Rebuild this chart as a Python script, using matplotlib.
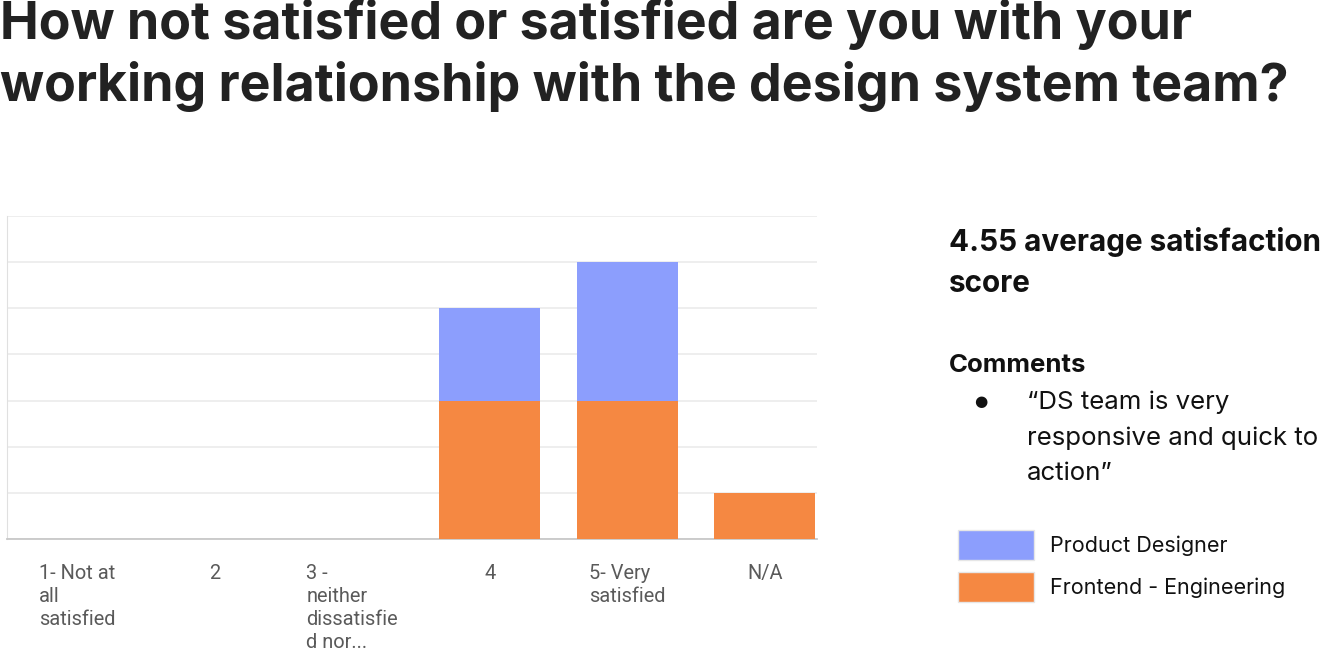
import matplotlib
matplotlib.use("Agg")
import matplotlib.pyplot as plt

# survey answers
categories = ["1- Not at\nall\nsatisfied", "2", "3 -\nneither\ndissatisfie\nd nor...",
              "4", "5- Very\nsatisfied", "N/A"]
frontend = [0, 0, 0, 3, 3, 1]
designer = [0, 0, 0, 2, 3, 0]
series_names = ["Product Designer", "Frontend - Engineering"]

blue = "#8c9efd"
orange = "#f58842"
W, H = 1327, 655

plt.rcParams['font.family'] = ['Inter', 'DejaVu Sans']
fig = plt.figure(figsize=(W / 100, H / 100), dpi=100)


def px(x, y):
    return x / W, 1 - y / H


# title
fig.text(*px(0, 25), "How not satisfied or satisfied are you with your",
         fontsize=37.4, fontweight='bold', color='#222222', va='center')
fig.text(*px(0, 87), "working relationship with the design system team?",
         fontsize=37.4, fontweight='bold', color='#222222', va='center')

# chart area
ax = fig.add_axes([7 / W, 1 - 539 / H, (817 - 7) / W, (539 - 216) / H])
x = range(len(categories))
ax.bar(x, frontend, width=0.735, color=orange, zorder=3)
ax.bar(x, designer, width=0.735, bottom=frontend, color=blue, zorder=3)
ax.set_xlim(-0.51, 5.38)
ax.set_ylim(0, 7)
ax.set_yticks(range(8))
ax.set_yticklabels([])
ax.grid(axis='y', color='#ebebeb', linewidth=1.2, zorder=0)
ax.tick_params(axis='both', length=0)
ax.set_xticks(list(x))
ax.set_xticklabels(categories, fontsize=14.4, color='#5a5a5a', linespacing=1.27,
                   multialignment='left', va='top', family=['Roboto', 'DejaVu Sans'])
ax.tick_params(axis='x', pad=18)
for s in ['top', 'right']:
    ax.spines[s].set_visible(False)
ax.spines['left'].set_color('#e0e0e0')
ax.spines['bottom'].set_color('#c8c8c8')
ax.spines['bottom'].set_linewidth(1.3)

# side panel
fig.text(*px(949, 242), "4.55 average satisfaction", fontsize=21.4,
         fontweight='bold', color='#111111', va='center')
fig.text(*px(949, 284), "score", fontsize=21.4,
         fontweight='bold', color='#111111', va='center')
fig.text(*px(949, 365), "Comments", fontsize=18.6,
         fontweight='bold', color='#111111', va='center')
fig.text(*px(981, 402), "\u25cf", fontsize=11, color='#111111', va='center', ha='center',
         family=['DejaVu Sans'])
for yy, line in zip([402, 438, 473],
                    ["\u201cDS team is very", "responsive and quick to", "action\u201d"]):
    fig.text(*px(1027, yy), line, fontsize=18.6, color='#111111', va='center')

# legend swatches
for yy, name, col in zip([545, 587], series_names, [blue, orange]):
    fig.patches.append(plt.Rectangle(px(958, yy + 15), 76 / W, 30 / H,
                                     transform=fig.transFigure, facecolor=col,
                                     edgecolor='#e6e6e6', linewidth=1))
    fig.text(*px(1050, yy + 1), name, fontsize=15.5, color='#111111', va='center')

fig.savefig("out.png", dpi=100, facecolor='white')
